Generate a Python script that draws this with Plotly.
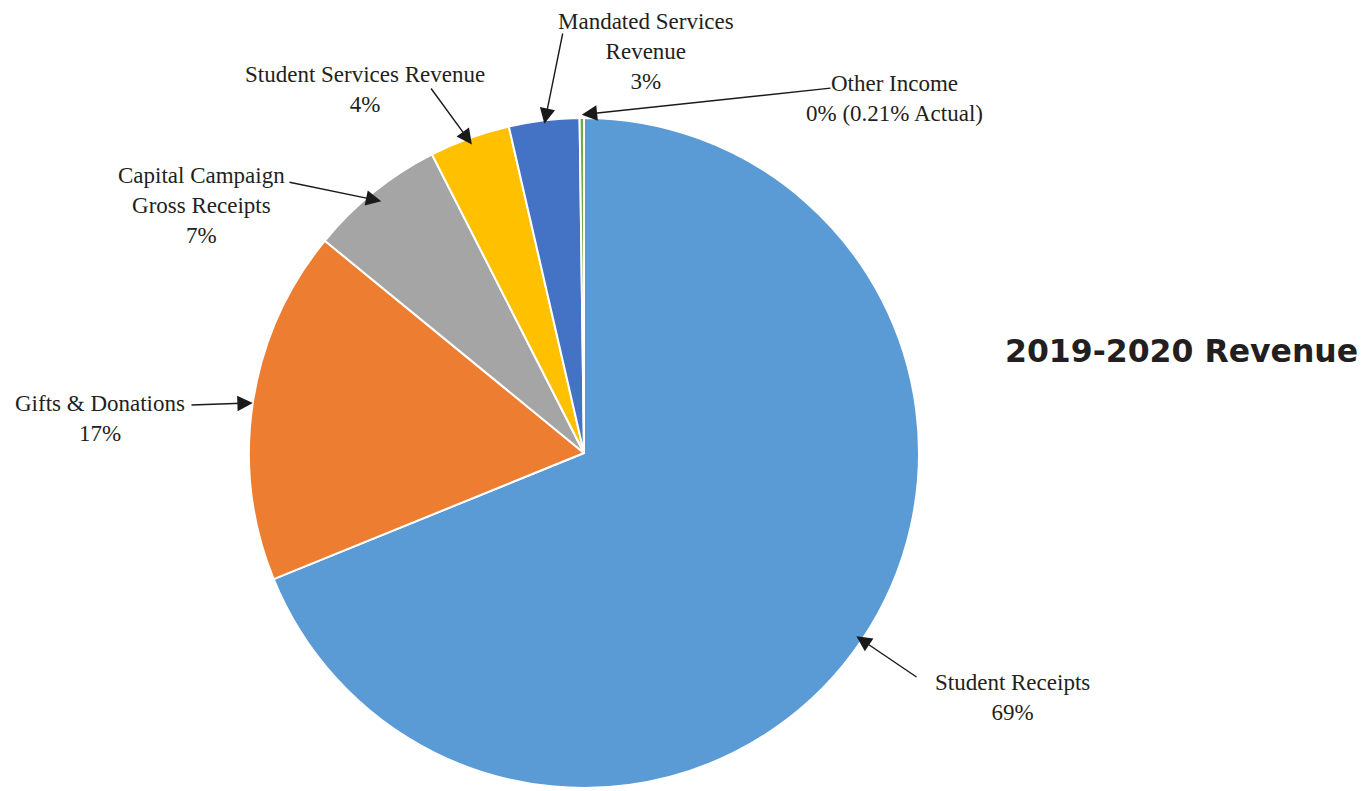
import math
import plotly.graph_objects as go

# ---- data ----
categories = ["Student Receipts", "Gifts & Donations", "Capital Campaign Gross Receipts",
              "Student Services Revenue", "Mandated Services Revenue", "Other Income"]
values = [69.0, 17.1, 6.6, 3.9, 3.4, 0.21]
label_texts = ["Student Receipts<br>69%", "Gifts & Donations<br>17%",
               "Capital Campaign<br>Gross Receipts<br>7%", "Student Services Revenue<br>4%",
               "Mandated Services<br>Revenue<br>3%", "Other Income<br>0% (0.21% Actual)"]
colors = ["#5B9BD5", "#ED7D31", "#A5A5A5", "#FFC000", "#4472C4", "#70AD47"]
title_text = "2019-2020 Revenue"

# ---- layout constants ----
W, H = 1372, 791
OFF = 8  # page body margin
cx, cy, R = 584 - OFF, 453 - OFF, 335
dom_x = [(cx - R) / W, (cx + R) / W]
dom_y = [1 - (cy + R) / H, 1 - (cy - R) / H]

# label block centres (screen px) and arrow tails (screen px)
label_pos = [(1012, 697), (100, 418), (201, 205), (365, 89), (646, 51), (895, 98)]
arrow_tail = [(918, 678), (190, 405), (288, 182), (430, 87), (563, 32), (832, 88)]
tip_frac = [0.98, 1.0, 0.965, 0.98, 0.99, 1.01]

TXT = "#231f20"
fig = go.Figure(go.Pie(
    labels=categories, values=values, sort=False, direction="clockwise", rotation=0,
    marker=dict(colors=colors, line=dict(color="white", width=2)),
    textinfo="none", hoverinfo="label+percent", showlegend=False,
    domain=dict(x=dom_x, y=dom_y),
))

annotations = []
total = sum(values)
cum = 0.0
for i, v in enumerate(values):
    mid = (cum + v / 2) / total * 2 * math.pi
    cum += v
    tx = cx + R * tip_frac[i] * math.sin(mid)
    ty = cy - R * tip_frac[i] * math.cos(mid)
    ax_px, ay_px = arrow_tail[i][0] - OFF, arrow_tail[i][1] - OFF
    annotations.append(dict(
        x=tx / W, y=1 - ty / H, xref="paper", yref="paper", text="",
        showarrow=True, arrowhead=2, arrowsize=2.2, arrowwidth=1.4, arrowcolor="#1a1a1a",
        ax=ax_px - tx, ay=ay_px - ty, axref="pixel", ayref="pixel", standoff=0,
    ))
    lx, ly = label_pos[i][0] - OFF, label_pos[i][1] - OFF
    annotations.append(dict(
        x=lx / W, y=1 - ly / H, xref="paper", yref="paper", text=label_texts[i],
        showarrow=False, xanchor="center", yanchor="middle", align="center",
        font=dict(family="Liberation Serif", size=23, color=TXT),
    ))

annotations.append(dict(
    x=(1181 - OFF) / W, y=1 - (351 - OFF) / H, xref="paper", yref="paper",
    text="<b>" + title_text + "</b>",
    showarrow=False, xanchor="center", yanchor="middle",
    font=dict(family="DejaVu Sans", size=31.5, color=TXT),
))

fig.update_layout(
    width=W, height=H, margin=dict(l=0, r=0, t=0, b=0),
    paper_bgcolor="white", plot_bgcolor="white", annotations=annotations,
)
fig.write_html("out.html")
